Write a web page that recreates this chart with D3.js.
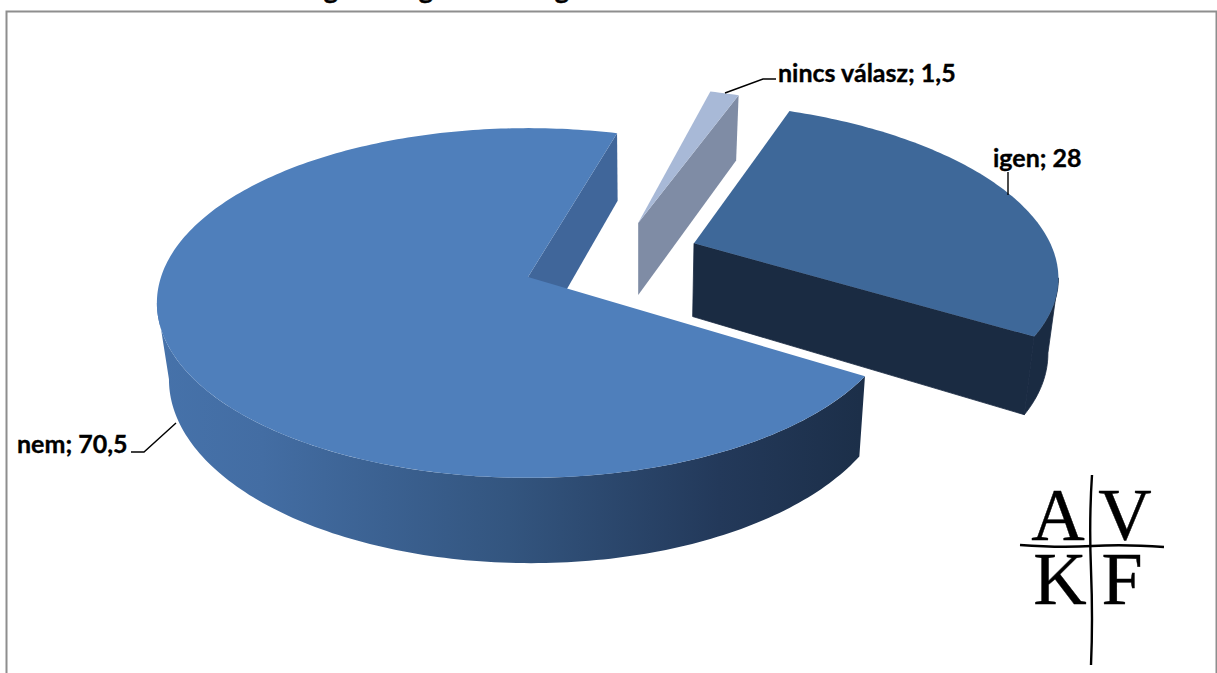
<!DOCTYPE html>
<html><head><meta charset="utf-8">
<script src="https://cdn.jsdelivr.net/npm/d3@7/dist/d3.min.js"></script>
<style>html,body{margin:0;padding:0;background:#fff;overflow:hidden}svg{display:block}</style>
</head><body><svg id="c" width="1217" height="673"></svg>
<script>
const categories = ["nem", "nincs válasz", "igen"];
const values = [70.5, 1.5, 28];
const labels = ["nem; 70,5", "nincs válasz; 1,5", "igen; 28"];
const explodeU = [0, 0.315, 0.466];
const explodeV = [0, 0.332, 0.203];
const topColors = ["#4f7fbb", "#a8b9d7", "#3e6899"];
const wallColors = ["#40669a", "#7f8ca5", "#1a2b42"];
const titleFragments = ["g", "g", "g"];
const titleFragmentX = [331, 426, 562];

const W = 1217, H = 673;
const svg = d3.select("#c");
const cx = 528, cy = 277, a = 367, k = 171, p = 0.1486, depth = 75, vpx = 640, conv = 0.975;
const startDeg = 122.3;
const rad = Math.PI / 180, TAU = 2 * Math.PI;

// Camera: world disc coords (u,v), z=0 top or z=1 bottom
function project(u, v, z) {
  const s = 1 / (1 + p * v);
  let x = cx + a * u * s, y = cy - k * v * s;
  if (z) { x = vpx + (x - vpx) * conv; y += depth * Math.pow(s, 0.8); }
  return [x, y];
}
const line = d3.line();
const pie = d3.pie().sort(null).value(d => d)
  .startAngle(startDeg * rad).endAngle(startDeg * rad + TAU);
const arcs = pie(values);

const defs = svg.append("defs");
const grad = defs.append("linearGradient").attr("id", "rimNem")
  .attr("gradientUnits", "userSpaceOnUse").attr("x1", 157).attr("x2", 860).attr("y1", 0).attr("y2", 0);
[[0, "#4672aa"], [0.15, "#436da3"], [0.5, "#33557f"], [0.8, "#23395a"], [1, "#1c2f49"]].forEach(s =>
  grad.append("stop").attr("offset", s[0]).attr("stop-color", s[1]));

const rimPoint = (i, t, z) => project(Math.sin(t) + explodeU[i], Math.cos(t) + explodeV[i], z);
function rimPts(i, a0, a1, z) {
  const n = Math.max(2, Math.ceil((a1 - a0) / rad));
  return d3.range(n + 1).map(j => rimPoint(i, a0 + (a1 - a0) * j / n, z));
}
[0, 1, 2].forEach(i => {
  const d = arcs[i], g = svg.append("g").attr("class", "slice");
  const apexT = project(explodeU[i], explodeV[i], 0), apexB = project(explodeU[i], explodeV[i], 1);
  // curved outer side: only the viewer-facing part between the disc's silhouette tangents
  const sweep = d3.range(0, 720).map(j => j * 0.5 * rad);
  const after = t => { while (t < d.startAngle) t += TAU; return t; };
  const right = after(d3.greatest(sweep, t => rimPoint(i, t, 0)[0]));
  const left = after(d3.least(sweep, t => rimPoint(i, t, 0)[0]));
  const lo = left < right ? d.startAngle : right;
  const hi = Math.min(d.endAngle, left);
  if (hi > lo) {
    const tp = rimPts(i, lo, hi, 0), bt = rimPts(i, lo, hi, 1).reverse();
    g.append("path").attr("d", line(tp.concat(bt)) + "Z")
      .attr("fill", i === 0 ? "url(#rimNem)" : wallColors[i])
      .attr("stroke", i === 2 ? wallColors[i] : "none").attr("stroke-width", 0.8);
  }
  // radial wall at the slice's end angle
  const e = d.endAngle, rT = rimPoint(i, e, 0), rB = rimPoint(i, e, 1);
  g.append("path").attr("d", line([apexT, rT, rB, apexB]) + "Z").attr("fill", wallColors[i])
    .attr("stroke", i === 2 ? wallColors[i] : "none").attr("stroke-width", 0.8);
  // top face
  g.append("path").attr("d", line([apexT].concat(rimPts(i, d.startAngle, d.endAngle, 0))) + "Z")
    .attr("fill", topColors[i]);
});

// Chart frame
svg.append("path").attr("d", `M6.5 ${H}V11.5H${W - 0.5}V${H}`)
  .attr("fill", "none").attr("stroke", "#8e8e8e").attr("stroke-width", 2);

// Title is cropped by the image edge: only its descenders remain
svg.selectAll("text.tf").data(titleFragments).join("text").attr("class", "tf")
  .attr("x", (d, i) => titleFragmentX[i]).attr("y", -1).attr("text-anchor", "middle")
  .attr("font-family", "Lato").attr("font-weight", 700).attr("font-size", 27)
  .attr("stroke", "#000").attr("stroke-width", 0.5).attr("fill", "#000").text(d => d);

// Data labels and leaders
const labelPos = [[17, 453], [778, 82], [993, 167]];
const leaders = [[[176, 423], [144, 452], [131, 452]], [[725, 93], [763, 79], [776, 79]], [[1008, 172], [1008, 195]]];
svg.selectAll("path.leader").data(leaders).join("path").attr("class", "leader")
  .attr("d", d => line(d)).attr("fill", "none").attr("stroke", "#000").attr("stroke-width", 1.4);
svg.selectAll("text.lab").data(labels).join("text").attr("class", "lab")
  .attr("x", (d, i) => labelPos[i][0]).attr("y", (d, i) => labelPos[i][1])
  .attr("font-family", "Lato").attr("font-weight", 700).attr("font-size", 25)
  .attr("stroke", "#000").attr("stroke-width", 0.35).attr("fill", "#000").text(d => d);

// AVKF logo
const logo = svg.append("g").attr("class", "logo");
[["A", 1058, 540], ["V", 1125, 540], ["K", 1060, 604], ["F", 1122, 604]].forEach(t =>
  logo.append("text").attr("x", t[1]).attr("y", t[2]).attr("text-anchor", "middle")
    .attr("font-family", "Liberation Serif").attr("font-size", 74)
    .attr("stroke", "#000").attr("stroke-width", 0.4).attr("fill", "#000").text(t[0]));
logo.append("path").attr("d", "M1020 545Q1060 548 1092 546T1164 547").attr("fill", "none").attr("stroke", "#000").attr("stroke-width", 2.4);
logo.append("path").attr("d", "M1092 475Q1089 520 1091 570T1091 665").attr("fill", "none").attr("stroke", "#000").attr("stroke-width", 2.4);
</script></body></html>
